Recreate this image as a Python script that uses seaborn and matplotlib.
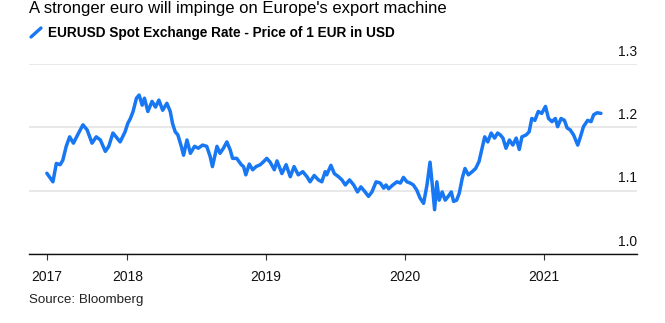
import matplotlib
matplotlib.use("Agg")
import matplotlib.pyplot as plt
import matplotlib.transforms as mtransforms
import pandas as pd
import seaborn as sns

# ---- data ----
dates_2017 = ["2017-06-03", "2017-06-19", "2017-06-28", "2017-07-08", "2017-07-15", "2017-07-24",
              "2017-08-02", "2017-08-12", "2017-08-23", "2017-09-06", "2017-09-17", "2017-09-30",
              "2017-10-11", "2017-10-22", "2017-11-04", "2017-11-13", "2017-11-24", "2017-12-05",
              "2017-12-13", "2017-12-26"]
values_2017 = [1.1275, 1.114, 1.143, 1.141, 1.148, 1.170,
               1.185, 1.175, 1.188, 1.204, 1.196, 1.175,
               1.185, 1.180, 1.162, 1.170, 1.191, 1.183,
               1.177, 1.193]

dates_2018 = ["2018-01-02", "2018-01-09", "2018-01-16", "2018-01-25", "2018-02-01", "2018-02-09",
              "2018-02-15", "2018-02-24", "2018-03-07", "2018-03-16", "2018-03-25", "2018-04-04",
              "2018-04-15", "2018-04-24", "2018-04-30", "2018-05-07", "2018-05-14", "2018-05-23",
              "2018-05-29", "2018-06-07", "2018-06-16", "2018-06-27", "2018-07-07", "2018-07-18",
              "2018-07-29", "2018-08-07", "2018-08-13", "2018-08-25", "2018-09-02", "2018-09-11",
              "2018-09-20", "2018-09-29", "2018-10-05", "2018-10-16", "2018-10-28", "2018-11-03",
              "2018-11-09", "2018-11-18", "2018-11-27", "2018-12-06", "2018-12-17", "2018-12-26"]
values_2018 = [1.206, 1.214, 1.225, 1.246, 1.251, 1.235,
               1.246, 1.225, 1.241, 1.232, 1.243, 1.227,
               1.238, 1.225, 1.206, 1.193, 1.188, 1.170,
               1.156, 1.180, 1.159, 1.170, 1.167, 1.172,
               1.170, 1.154, 1.138, 1.170, 1.159, 1.167,
               1.177, 1.164, 1.151, 1.151, 1.141, 1.138,
               1.125, 1.142, 1.133, 1.138, 1.141, 1.146]

dates_2019 = ["2019-01-03", "2019-01-12", "2019-01-23", "2019-01-30", "2019-02-12", "2019-02-23",
              "2019-03-06", "2019-03-16", "2019-03-27", "2019-04-08", "2019-04-19", "2019-04-27",
              "2019-05-08", "2019-05-19", "2019-05-28", "2019-06-06", "2019-06-10", "2019-06-21",
              "2019-06-30", "2019-07-11", "2019-07-20", "2019-07-29", "2019-08-09", "2019-08-20",
              "2019-08-30", "2019-09-08", "2019-09-19", "2019-09-28", "2019-10-07", "2019-10-18",
              "2019-10-29", "2019-11-07", "2019-11-13", "2019-11-20", "2019-12-01", "2019-12-12",
              "2019-12-21", "2019-12-29"]
values_2019 = [1.151, 1.145, 1.133, 1.147, 1.127, 1.141,
               1.122, 1.138, 1.125, 1.130, 1.122, 1.114,
               1.124, 1.117, 1.114, 1.130, 1.125, 1.140,
               1.127, 1.122, 1.117, 1.109, 1.117, 1.109,
               1.098, 1.106, 1.098, 1.091, 1.098, 1.114,
               1.112, 1.104, 1.109, 1.103, 1.109, 1.114,
               1.112, 1.121]

dates_2020 = ["2020-01-07", "2020-01-16", "2020-01-24", "2020-02-02", "2020-02-11", "2020-02-20",
              "2020-02-29", "2020-03-08", "2020-03-14", "2020-03-20", "2020-03-26", "2020-04-01",
              "2020-04-09", "2020-04-17", "2020-04-25", "2020-05-03", "2020-05-09", "2020-05-17",
              "2020-05-24", "2020-06-01", "2020-06-08", "2020-06-17", "2020-06-27", "2020-07-06",
              "2020-07-15", "2020-07-22", "2020-07-30", "2020-08-07", "2020-08-16", "2020-08-25",
              "2020-09-02", "2020-09-09", "2020-09-16", "2020-09-24", "2020-10-03", "2020-10-12",
              "2020-10-21", "2020-10-29", "2020-11-05", "2020-11-16", "2020-11-24", "2020-12-01",
              "2020-12-09", "2020-12-18", "2020-12-27"]
values_2020 = [1.114, 1.112, 1.109, 1.101, 1.088, 1.080,
               1.109, 1.145, 1.109, 1.070, 1.114, 1.085,
               1.098, 1.085, 1.091, 1.098, 1.083, 1.085,
               1.096, 1.120, 1.135, 1.125, 1.130, 1.135,
               1.146, 1.164, 1.185, 1.177, 1.191, 1.183,
               1.191, 1.188, 1.183, 1.167, 1.180, 1.172,
               1.183, 1.165, 1.185, 1.188, 1.193, 1.214,
               1.211, 1.225, 1.222]

dates_2021 = ["2021-01-06", "2021-01-14", "2021-01-23", "2021-02-01", "2021-02-07", "2021-02-16",
              "2021-02-25", "2021-03-04", "2021-03-12", "2021-03-21", "2021-04-01", "2021-04-08",
              "2021-04-16", "2021-04-27", "2021-05-06", "2021-05-13", "2021-05-22", "2021-06-01"]
values_2021 = [1.233, 1.214, 1.209, 1.214, 1.201, 1.214,
               1.211, 1.199, 1.196, 1.188, 1.172, 1.185,
               1.201, 1.211, 1.209, 1.220, 1.223, 1.222]

ytick_values = [1.0, 1.1, 1.2, 1.3]
ytick_labels = ["1.0", "1.1", "1.2", "1.3"]
xtick_dates = ["2017-06-04", "2018-01-01", "2019-01-01", "2020-01-01", "2021-01-01"]
xtick_labels = ["2017", "2018", "2019", "2020", "2021"]

title_text = "A stronger euro will impinge on Europe's export machine"
series_name = "EURUSD Spot Exchange Rate - Price of 1 EUR in USD"
source_text = "Source: Bloomberg"

# ---- styling ----
BLUE = "#1877f2"
sns.set_style("white")
plt.rcParams["font.family"] = ["Liberation Sans", "DejaVu Sans"]

df = pd.DataFrame({
    "date": pd.to_datetime(dates_2017 + dates_2018 + dates_2019 + dates_2020 + dates_2021),
    "value": values_2017 + values_2018 + values_2019 + values_2020 + values_2021,
})

W, H = 665, 323
fig = plt.figure(figsize=(W / 100, H / 100), dpi=100)
ax = fig.add_axes([29 / W, 1 - 254 / H, (637 - 29) / W, (254 - 64) / H])

sns.lineplot(data=df, x="date", y="value", ax=ax, color=BLUE, linewidth=2.5,
             solid_joinstyle="round", solid_capstyle="round", zorder=3)

ax.set_ylim(1.0, 1.3)
ax.set_xlim(pd.Timestamp("2017-04-17"), pd.Timestamp("2021-09-04"))
ax.set_xlabel("")
ax.set_ylabel("")

ax.set_yticks(ytick_values)
ax.yaxis.grid(True, color="#e6e6e6", linewidth=1.3)
ax.xaxis.grid(False)
ax.set_axisbelow(True)
ax.tick_params(axis="y", left=False, right=False, labelleft=False, labelright=False)

ax.set_xticks(pd.to_datetime(xtick_dates))
ax.set_xticklabels(xtick_labels)
ax.tick_params(axis="x", bottom=True, direction="out", length=4.3, width=0.8,
               color="#333333", pad=7, labelsize=10, labelcolor="#111111")

for side in ["top", "left", "right"]:
    ax.spines[side].set_visible(False)
ax.spines["bottom"].set_color("#111111")
ax.spines["bottom"].set_linewidth(1.0)

# right-side y labels sitting above their gridlines
offset = mtransforms.ScaledTranslation(0, 8.5 / 100, fig.dpi_scale_trans)
for v, lab in zip(ytick_values, ytick_labels):
    ax.text(1.0, v, lab, transform=ax.get_yaxis_transform() + offset,
            ha="right", va="baseline", fontsize=10, color="#111111")

# title, legend, source
fig.text(29 / W, 1 - 9 / H, title_text, ha="left", va="center", fontsize=12, color="#000000")
fig.lines.append(plt.Line2D([31 / W, 41 / W], [1 - 37 / H, 1 - 28 / H], transform=fig.transFigure,
                            color=BLUE, linewidth=2.4, solid_capstyle="round"))
fig.text(48 / W, 1 - 32.5 / H, series_name, ha="left", va="center", fontsize=9.8,
         fontweight="bold", color="#000000")
fig.text(29 / W, 1 - 300 / H, source_text, ha="left", va="center", fontsize=9.6, color="#222222")

fig.savefig("out.png", dpi=100)
